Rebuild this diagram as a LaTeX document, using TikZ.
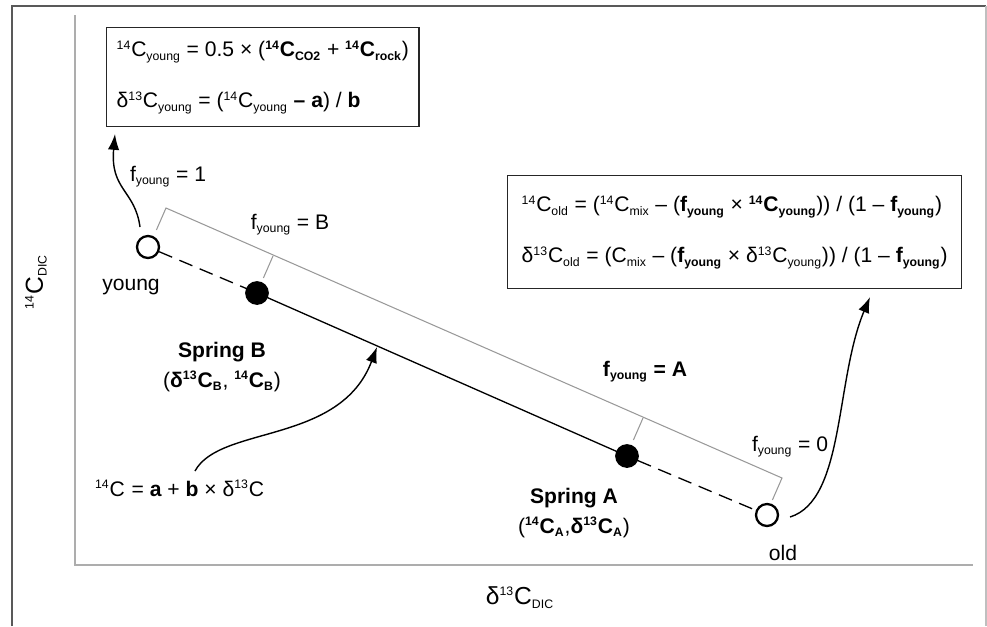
\documentclass[tikz,border=0pt]{standalone}
\usepackage{fontspec}
\setmainfont{Liberation Sans}
\usetikzlibrary{arrows.meta}
\usetikzlibrary{calc}

\newcommand{\hisup}[1]{\textsuperscript{\fontsize{7}{8}\selectfont #1}}
\newcommand{\losub}[1]{\textsubscript{\fontsize{7}{8}\selectfont #1}}
\newcommand{\isoC}[2]{\hisup{#1}C\losub{#2}}
\newcommand{\fyoung}{f\losub{young}}

\begin{document}
\begin{tikzpicture}[x=0.02cm, y=-0.02cm, font=\fontsize{12}{14}\selectfont,
    opendot/.style={circle, draw, line width=1.3pt, fill=white, minimum size=0.44cm, inner sep=0pt},
    springdot/.style={circle, draw, fill=black, line width=1pt, minimum size=0.44cm, inner sep=0pt},
    eqbox/.style={draw=black!85, line width=0.8pt, align=left, inner xsep=0.28cm, inner ysep=0pt, font=\fontsize{12}{29}\selectfont},
    bracket/.style={draw=black!40, line width=0.6pt},
    curvearrow/.style={line width=0.8pt, -{Latex[length=9pt,width=6.5pt]}},
    mixline/.style={line width=0.75pt},
    gapline/.style={mixline, dash pattern=on 8pt off 4.5pt}]
    \useasboundingbox (0,0) rectangle (987,626);
    % frame and axes
    \draw[black!65, line width=1.6pt] (12,626) -- (12,6) -- (986,6);
    \draw[black!25, line width=0.6pt] (986,6) -- (986,626);
    \draw[black!32, line width=1.1pt] (75,15) -- (75,565) -- (973,565);
    \node[rotate=90] (ylab) at (36,282) {\fontsize{14}{16}\selectfont\isoC{14}{DIC}};
    \node (xlab) at (520,598) {\fontsize{14}{16}\selectfont δ\isoC{13}{DIC}};

    % equation boxes
    \node[eqbox, inner xsep=0.2cm, minimum width=6.1cm, minimum height=1.98cm, anchor=north west] (youngbox) at (106,27)
        {\isoC{14}{young} = 0.5 × (\textbf{\isoC{14}{CO2}} + \textbf{\isoC{14}{rock}})\\
         δ\isoC{13}{young} = (\isoC{14}{young} \textbf{–} \textbf{a}) / \textbf{b}};
    \node[eqbox, minimum height=2.26cm, anchor=north west] (oldbox) at (507,175)
        {\isoC{14}{old} = (\isoC{14}{mix} – (\textbf{\fyoung} × \textbf{\isoC{14}{young}})) / (1 – \textbf{\fyoung})\\
         δ\isoC{13}{old} = (C\losub{mix} – (\textbf{\fyoung} × δ\isoC{13}{young})) / (1 – \textbf{\fyoung})};

    % end members and springs
    \node[opendot] (young) at (148,247) {};
    \node[springdot] (springB) at (257,293) {};
    \node[springdot] (springA) at (627,456) {};
    \node[opendot] (old) at (767,515) {};
    \draw[gapline] (young) -- (springB);
    \draw[mixline] (springB) -- (springA);
    \draw[gapline] (springA) -- (old);

    % fraction bracket
    \coordinate (brYoung) at (166,208);
    \coordinate (brB) at (273,256);
    \coordinate (brA) at (643,418);
    \coordinate (brOld) at (782,478);
    \draw[bracket] ($(brYoung)+(-9.6,22)$) -- (brYoung) -- (brOld) -- ($(brOld)+(-9.6,22)$);
    \draw[bracket] (brB) -- ++(-9.6,22);
    \draw[bracket] (brA) -- ++(-9.6,22);

    \node (youngtxt) at (131,287) {young};
    \node (oldtxt) at (783,553) {old};
    \node (fone) at (168,177) {\fyoung{} = 1};
    \node (fB) at (290,225) {\fyoung{} = B};
    \node (fA) at (645,372) {\textbf{\fyoung{} = A}};
    \node (fzero) at (790,447) {\fyoung{} = 0};
    \node[align=center, font=\fontsize{12}{17}\selectfont] (springBtxt) at (222,367)
        {\textbf{Spring B}\\ (\textbf{δ\isoC{13}{B}}, \textbf{\isoC{14}{B}})};
    \node[align=center, font=\fontsize{12}{17}\selectfont] (springAtxt) at (574,513)
        {\textbf{Spring A}\\ (\textbf{\isoC{14}{A}},\textbf{δ\isoC{13}{A}})};
    \node (linetxt) at (180,490) {\isoC{14}{} = \textbf{a} + \textbf{b} × δ\isoC{13}{}};

    % pointers
    \coordinate (youngfoot) at (140,227);
    \coordinate (youngtip) at (115,134);
    \coordinate (linefoot) at (195,471);
    \coordinate (linetip) at (377,347);
    \coordinate (oldfoot) at (790,517);
    \coordinate (oldtip) at (870,297);
    \draw[curvearrow] (youngfoot) .. controls (135,190) and (110,190) .. (youngtip);
    \draw[curvearrow] (linefoot) .. controls (220,425) and (340,445) .. (linetip);
    \draw[curvearrow] (oldfoot) .. controls (845,500) and (835,380) .. (oldtip);
\end{tikzpicture}
\end{document}
